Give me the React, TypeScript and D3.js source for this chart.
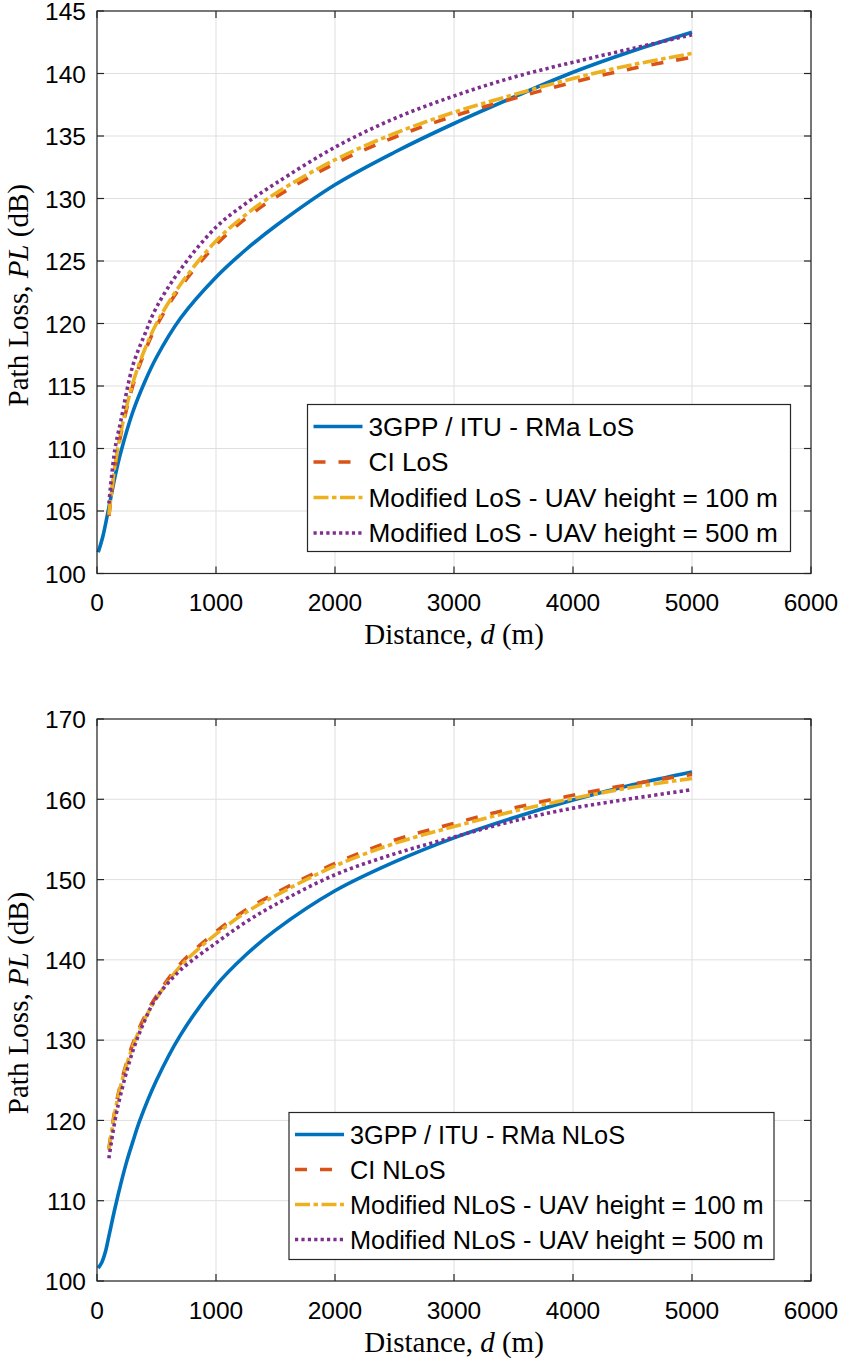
import React from "react";
import * as d3 from "d3";

// ---- data ----
const xTicks = [0, 1000, 2000, 3000, 4000, 5000, 6000];
const losTicks = [100, 105, 110, 115, 120, 125, 130, 135, 140, 145];
const nlosTicks = [100, 110, 120, 130, 140, 150, 160, 170];

// distances (m)
const dRMaLoS = [10, 50, 100, 150, 200, 300, 400, 500, 700, 1000, 1250, 1500, 2000, 2500, 3000, 3500, 4000, 4500, 5000];
const dRMaNLoS = [10, 40, 70, 100, 150, 200, 250, 300, 360, 500, 700, 1000, 1250, 1500, 2000, 2500, 3000, 3500, 4000, 4500, 5000];
const dModel = [100, 150, 200, 300, 400, 500, 700, 1000, 1250, 1500, 2000, 2500, 3000, 3500, 4000, 4500, 5000];

// LoS path loss (dB)
const rmaLoS = [101.7, 103.0, 105.3, 107.7, 109.7, 112.9, 115.3, 117.3, 120.4, 123.7, 125.9, 127.8, 131.1, 133.7, 136.0, 138.1, 140.1, 141.8, 143.3];
const ciLoS = [104.6, 108.4, 111.1, 115.0, 117.7, 119.8, 122.9, 126.3, 128.4, 130.1, 132.8, 134.9, 136.6, 138.0, 139.3, 140.4, 141.3];
const modLoS100 = [104.7, 108.6, 111.3, 115.2, 117.9, 120.0, 123.1, 126.6, 128.7, 130.4, 133.1, 135.2, 136.9, 138.3, 139.6, 140.7, 141.6];
const modLoS500 = [105.6, 109.9, 112.2, 116.6, 119.1, 121.3, 124.3, 127.7, 129.6, 131.2, 134.1, 136.4, 138.2, 139.7, 140.9, 142.0, 143.1];

// NLoS path loss (dB)
const rmaNLoS = [101.6, 102.3, 103.6, 105.6, 109.0, 112.1, 114.9, 117.3, 120.0, 125.0, 130.6, 136.8, 140.6, 143.7, 148.6, 152.2, 155.2, 157.7, 159.9, 161.8, 163.4];
const ciNLoS = [116.5, 121.2, 124.6, 129.5, 132.9, 135.5, 139.5, 143.5, 146.2, 148.3, 152.0, 154.9, 157.0, 158.9, 160.5, 161.9, 163.1];
const modNLoS100 = [116.3, 121.0, 124.4, 129.2, 132.6, 135.2, 139.2, 143.2, 145.9, 148.0, 151.7, 154.5, 156.6, 158.5, 160.1, 161.5, 162.6];
const modNLoS500 = [115.3, 119.9, 123.3, 128.6, 132.4, 135.3, 138.7, 142.1, 144.7, 146.9, 150.6, 153.2, 155.3, 157.3, 158.9, 160.1, 161.2];

const losLabels = ["3GPP / ITU - RMa LoS", "CI LoS", "Modified LoS - UAV height = 100 m", "Modified LoS - UAV height = 500 m"];
const nlosLabels = ["3GPP / ITU - RMa NLoS", "CI NLoS", "Modified NLoS - UAV height = 100 m", "Modified NLoS - UAV height = 500 m"];

const colors = ["#0072BD", "#D95319", "#EDB120", "#7E2F8E"];
const dashes = [null, "12,13", "15,3.5,4.5,3.5", "3.2,3.2"];

const SANS = "'Liberation Sans', Arial, Helvetica, sans-serif";
const SERIF = "'Liberation Serif', 'Times New Roman', serif";
const AXIS = "#262626";
const GRID = "#dfdfdf";
const LW = 3.6;

type Series = { d: number[]; v: number[] };

type PanelProps = {
  top: number;
  bottom: number;
  yDomain: [number, number];
  yTicks: number[];
  series: Series[];
  labels: string[];
  legendBox: { x: number; y: number; w: number; h: number; step: number; fs: number };
};

const Panel = ({ top, bottom, yDomain, yTicks, series, labels, legendBox }: PanelProps) => {
  const left = 97;
  const right = 811;
  const x = d3.scaleLinear().domain([0, 6000]).range([left, right]);
  const y = d3.scaleLinear().domain(yDomain).range([bottom, top]);
  const line = d3
    .line<[number, number]>()
    .x((p) => x(p[0]))
    .y((p) => y(p[1]))
    .curve(d3.curveCatmullRom.alpha(0.5));
  const tl = 7;

  return (
    <g>
      {/* grid */}
      {xTicks.map((t) => (
        <line key={"gx" + t} x1={x(t)} x2={x(t)} y1={top} y2={bottom} stroke={GRID} strokeWidth={1} />
      ))}
      {yTicks.map((t) => (
        <line key={"gy" + t} x1={left} x2={right} y1={y(t)} y2={y(t)} stroke={GRID} strokeWidth={1} />
      ))}

      {/* curves */}
      {series.map((s, i) => (
        <path
          key={"s" + i}
          d={line(s.d.map((dd, j) => [dd, s.v[j]] as [number, number])) || ""}
          fill="none"
          stroke={colors[i]}
          strokeWidth={LW}
          strokeDasharray={dashes[i] || undefined}
          strokeLinejoin="round"
        />
      ))}

      {/* box and ticks */}
      <rect x={left} y={top} width={right - left} height={bottom - top} fill="none" stroke={AXIS} strokeWidth={1.2} />
      {xTicks.map((t) => (
        <g key={"tx" + t}>
          <line x1={x(t)} x2={x(t)} y1={bottom} y2={bottom - tl} stroke={AXIS} strokeWidth={1.2} />
          <line x1={x(t)} x2={x(t)} y1={top} y2={top + tl} stroke={AXIS} strokeWidth={1.2} />
          <text x={x(t)} y={bottom + 37.5} textAnchor="middle" fontFamily={SANS} fontSize={24.5} fill="#000">
            {t}
          </text>
        </g>
      ))}
      {yTicks.map((t) => (
        <g key={"ty" + t}>
          <line x1={left} x2={left + tl} y1={y(t)} y2={y(t)} stroke={AXIS} strokeWidth={1.2} />
          <line x1={right} x2={right - tl} y1={y(t)} y2={y(t)} stroke={AXIS} strokeWidth={1.2} />
          <text x={86} y={y(t) + 9.3} textAnchor="end" fontFamily={SANS} fontSize={24.5} fill="#000">
            {t}
          </text>
        </g>
      ))}

      {/* axis labels */}
      <text x={(left + right) / 2} y={bottom + 70.5} textAnchor="middle" fontFamily={SERIF} fontSize={29} fill="#000">
        Distance, <tspan fontStyle="italic">d</tspan> (m)
      </text>
      <text
        transform={`translate(28,${(top + bottom) / 2 + 3}) rotate(-90)`}
        textAnchor="middle"
        fontFamily={SERIF}
        fontSize={29}
        fill="#000"
      >
        Path Loss, <tspan fontStyle="italic">PL</tspan> (dB)
      </text>

      {/* legend */}
      <rect
        x={legendBox.x}
        y={legendBox.y}
        width={legendBox.w}
        height={legendBox.h}
        fill="#fff"
        stroke={AXIS}
        strokeWidth={1.2}
      />
      {labels.map((lab, i) => {
        const ry = legendBox.y + 22 + i * legendBox.step;
        return (
          <g key={"lg" + i}>
            <line
              x1={legendBox.x + 6}
              x2={legendBox.x + 55}
              y1={ry}
              y2={ry}
              stroke={colors[i]}
              strokeWidth={LW}
              strokeDasharray={dashes[i] || undefined}
            />
            <text x={legendBox.x + 61} y={ry + legendBox.fs * 0.358} fontFamily={SANS} fontSize={legendBox.fs} fill="#000">
              {lab}
            </text>
          </g>
        );
      })}
    </g>
  );
};

export default function App() {
  const losSeries: Series[] = [
    { d: dRMaLoS, v: rmaLoS },
    { d: dModel, v: ciLoS },
    { d: dModel, v: modLoS100 },
    { d: dModel, v: modLoS500 },
  ];
  const nlosSeries: Series[] = [
    { d: dRMaNLoS, v: rmaNLoS },
    { d: dModel, v: ciNLoS },
    { d: dModel, v: modNLoS100 },
    { d: dModel, v: modNLoS500 },
  ];
  return (
    <svg
      width={846}
      height={1360}
      style={{ position: "absolute", left: 0, top: 0, background: "#fff" }}
    >
      <rect width={846} height={1360} fill="#fff" />
      <Panel
        top={11}
        bottom={573.5}
        yDomain={[100, 145]}
        yTicks={losTicks}
        series={losSeries}
        labels={losLabels}
        legendBox={{ x: 307.5, y: 404.5, w: 483, h: 147, step: 35.5, fs: 26.2 }}
      />
      <Panel
        top={719}
        bottom={1281}
        yDomain={[100, 170]}
        yTicks={nlosTicks}
        series={nlosSeries}
        labels={nlosLabels}
        legendBox={{ x: 289, y: 1112.5, w: 485, h: 147, step: 35, fs: 25.3 }}
      />
    </svg>
  );
}
